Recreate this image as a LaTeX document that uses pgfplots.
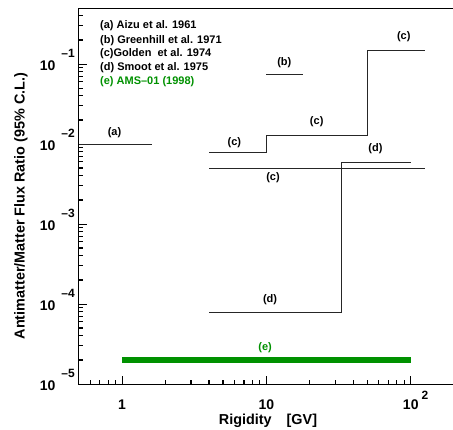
\documentclass[border=0pt]{standalone}
\usepackage{fontspec}
\setmainfont{Liberation Sans}
\usepackage{pgfplots}
\pgfplotsset{compat=1.18}
\definecolor{amsgreen}{RGB}{0,145,0}
\newcommand{\ylab}[1]{\textbf{10}\hspace{6pt}\raisebox{13.3pt}{\fontsize{12}{12}\selectfont\bfseries –#1}}
\begin{document}
\begin{tikzpicture}[x=1pt,y=1pt]
\begin{axis}[
  at={(78.7pt,45pt)}, anchor=south west,
  scale only axis, width=375.5pt, height=375.9pt,
  xmode=log, ymode=log,
  xmin=0.5, xmax=200, ymin=1e-5, ymax=0.5,
  xtick pos=bottom, ytick pos=left,
  tick align=inside,
  major tick length=8pt, minor tick length=4.5pt,
  every tick/.style={black, line width=1pt},
  every minor tick/.style={black, line width=1.2pt},
  axis line style={line width=0.8pt},
  xtick={1,10,100},
  xticklabels={1,10,{10\rlap{\hspace{3pt}\raisebox{10pt}{\fontsize{12}{12}\selectfont\bfseries 2}}}},
  minor xtick={0.6,0.7,0.8,0.9,2,3,4,5,6,7,8,9,20,30,40,50,60,70,80,90,200},
  ytick={1e-5,1e-4,1e-3,1e-2,1e-1},
  yticklabels={\ylab{5},\ylab{4},\ylab{3},\ylab{2},\ylab{1}},
  minor ytick={2e-5,3e-5,4e-5,5e-5,6e-5,7e-5,8e-5,9e-5,
               2e-4,3e-4,4e-4,5e-4,6e-4,7e-4,8e-4,9e-4,
               2e-3,3e-3,4e-3,5e-3,6e-3,7e-3,8e-3,9e-3,
               2e-2,3e-2,4e-2,5e-2,6e-2,7e-2,8e-2,9e-2,
               2e-1,3e-1,4e-1},
  tick label style={font=\fontsize{14}{14}\selectfont\bfseries},
  xticklabel style={anchor=base, inner sep=0pt, yshift=-25pt},
  yticklabel style={anchor=base east, inner sep=0pt, xshift=-3.7pt, yshift=-6.7pt},
  xlabel={Rigidity\hspace{15pt}[GV]},
  ylabel={Antimatter/Matter Flux Ratio (95\% C.L.)},
  label style={font=\fontsize{14.4}{14}\selectfont\bfseries},
  xlabel style={at={(axis description cs:0.504,-0.109)}, anchor=base},
  ylabel style={at={(axis description cs:-0.1443,0.4735)}, anchor=base},
  clip=false,
]
% (a) Aizu 1961
\addplot[black!85, line width=0.8pt] coordinates {(0.5,0.01) (1.6,0.01)};
% (b) Greenhill 1971
\addplot[black!85, line width=0.8pt] coordinates {(10,0.075) (18,0.075)};
% (c) Golden 1974 upper step
\addplot[black!85, line width=0.8pt] coordinates {(4,0.0079) (10,0.0079) (10,0.013) (50,0.013) (50,0.15) (125,0.15)};
% (c) Golden 1974 lower
\addplot[black!85, line width=0.8pt] coordinates {(4,0.00495) (125,0.00495)};
% (d) Smoot 1975
\addplot[black!85, line width=0.8pt] coordinates {(4,7.9e-5) (33,7.9e-5) (33,0.0059) (100,0.0059)};
% (e) AMS-01 1998
\addplot[amsgreen, line width=6pt] coordinates {(1,2e-5) (100,2e-5)};

\begin{scope}[every node/.style={font=\fontsize{11}{13}\selectfont\bfseries, inner sep=0pt}]
\node at (axis cs:0.885,0.014) {(a)};
\node at (axis cs:13.3,0.105) {(b)};
\node at (axis cs:89.4,0.221) {(c)};
\node at (axis cs:22.3,0.0192) {(c)};
\node at (axis cs:6.0,0.0104) {(c)};
\node at (axis cs:56.9,0.00866) {(d)};
\node at (axis cs:11.1,0.00376) {(c)};
\node at (axis cs:10.6,1.13e-4) {(d)};
\node[text=amsgreen] at (axis cs:9.8,2.82e-5) {(e)};

\node[anchor=base west] at (axis description cs:0.0567,0.9460) {(a) Aizu et al. 1961};
\node[anchor=base west] at (axis description cs:0.0567,0.9061) {(b) Greenhill et al. 1971};
\node[anchor=base west] at (axis description cs:0.0567,0.8700) {(c)Golden\ \ et al. 1974};
\node[anchor=base west] at (axis description cs:0.0567,0.8327) {(d) Smoot et al. 1975};
\node[anchor=base west, text=amsgreen] at (axis description cs:0.0567,0.7955) {(e) AMS–01 (1998)};
\end{scope}
\end{axis}
\pgfresetboundingbox
\path[use as bounding box] (0pt,0pt) rectangle (453pt,429pt);
\end{tikzpicture}
\end{document}
